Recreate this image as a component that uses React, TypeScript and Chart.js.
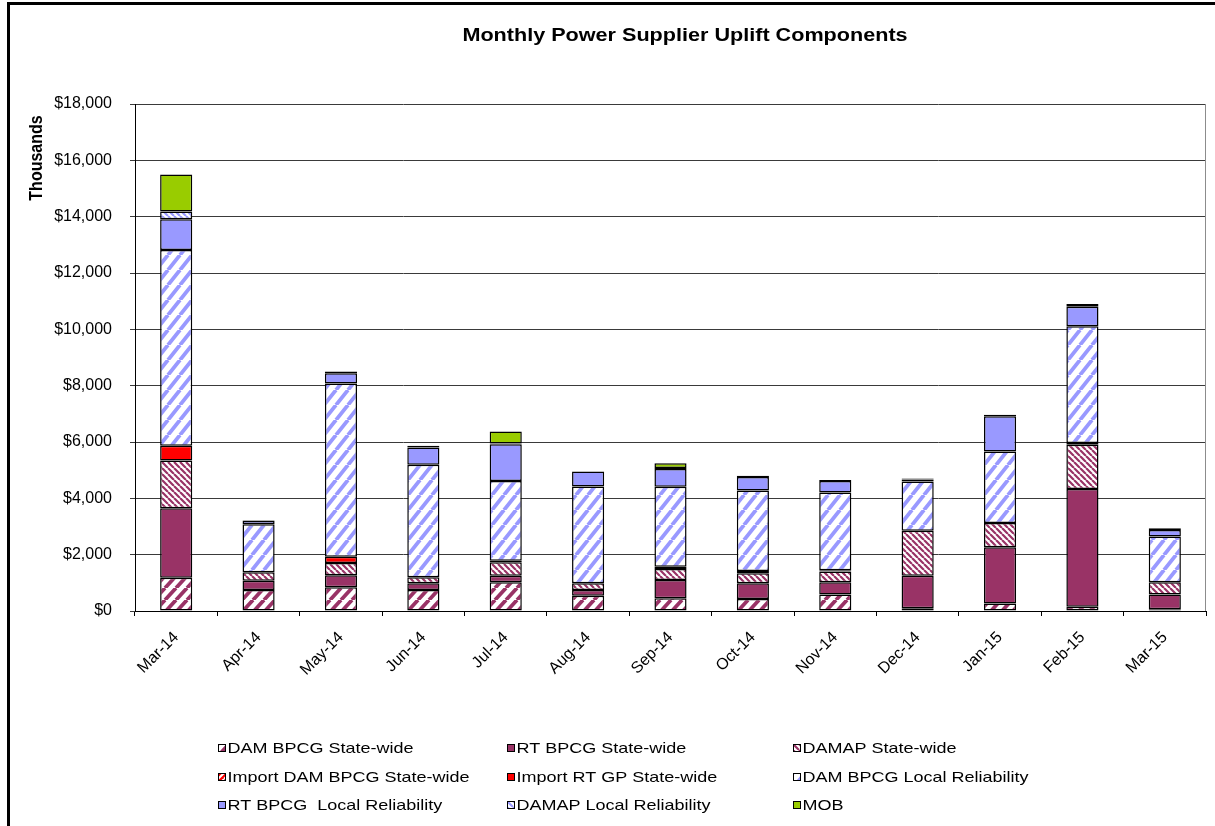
import React, { useEffect, useRef } from 'react';
import { Chart, registerables } from 'chart.js';

Chart.register(...registerables);

const categories = ['Mar-14', 'Apr-14', 'May-14', 'Jun-14', 'Jul-14', 'Aug-14', 'Sep-14', 'Oct-14', 'Nov-14', 'Dec-14', 'Jan-15', 'Feb-15', 'Mar-15'];

const damBpcgStateWide = [1180, 750, 840, 750, 1020, 545, 450, 427, 590, 95, 270, 150, 60];
const rtBpcgStateWide = [2470, 320, 430, 235, 235, 200, 650, 560, 430, 1160, 1995, 4180, 530];
const damapStateWide = [1690, 310, 430, 215, 475, 240, 390, 355, 380, 1590, 855, 1575, 430];
const importDamBpcgStateWide = [0, 0, 0, 0, 50, 0, 0, 0, 50, 0, 0, 0, 0];
const importRtGpStateWide = [530, 0, 230, 0, 0, 0, 80, 80, 0, 0, 0, 60, 0];
const damBpcgLocalReliability = [6950, 1700, 6145, 3990, 2835, 3435, 2845, 2860, 2760, 1755, 2545, 4145, 1625];
const rtBpcgLocalReliability = [1090, 120, 370, 615, 1305, 535, 630, 475, 405, 70, 1245, 690, 235];
const damapLocalReliability = [270, 20, 60, 60, 30, 0, 30, 45, 35, 30, 60, 100, 60];
const mob = [1320, 0, 0, 0, 420, 0, 170, 0, 0, 0, 0, 0, 0];

const seriesLabels = [
  'DAM BPCG State-wide',
  'RT BPCG State-wide',
  'DAMAP State-wide',
  'Import DAM BPCG State-wide',
  'Import RT GP State-wide',
  'DAM BPCG Local Reliability',
  'RT BPCG  Local Reliability',
  'DAMAP Local Reliability',
  'MOB',
];

const yTickValues = [0, 2000, 4000, 6000, 8000, 10000, 12000, 14000, 16000, 18000];

const chartTitle = 'Monthly Power Supplier Uplift Components';
const yAxisTitle = 'Thousands';

const FONT = '"Liberation Sans", Arial, Helvetica, sans-serif';

function stripePattern(fg: string, bg: string, w: number, h: number, lw: number, dir: 'up' | 'down') {
  const c = document.createElement('canvas');
  c.width = w;
  c.height = h;
  const g = c.getContext('2d')!;
  g.fillStyle = bg;
  g.fillRect(0, 0, w, h);
  g.strokeStyle = fg;
  g.lineWidth = lw;
  g.beginPath();
  for (let k = -1; k <= 1; k++) {
    if (dir === 'up') {
      g.moveTo(k * w, h);
      g.lineTo(k * w + w, 0);
    } else {
      g.moveTo(k * w, 0);
      g.lineTo(k * w + w, h);
    }
  }
  g.stroke();
  return g.createPattern(c, 'repeat') as CanvasPattern;
}

export default function App() {
  const ref = useRef<HTMLCanvasElement>(null);

  useEffect(() => {
    const canvas = ref.current!;
    const maroon = '#993366';
    const blue = '#9999FF';
    const red = '#FF0000';
    const green = '#99CC00';

    const fills: (string | CanvasPattern)[] = [
      stripePattern(maroon, '#ffffff', 11, 12, 3.8, 'up'),
      maroon,
      stripePattern(maroon, '#ffffff', 6, 6, 2.2, 'down'),
      stripePattern('#ffffff', red, 6, 6, 2, 'up'),
      red,
      stripePattern(blue, '#ffffff', 12, 15, 3.8, 'up'),
      blue,
      stripePattern(blue, '#ffffff', 6, 6, 2.2, 'down'),
      green,
    ];
    const values = [
      damBpcgStateWide,
      rtBpcgStateWide,
      damapStateWide,
      importDamBpcgStateWide,
      importRtGpStateWide,
      damBpcgLocalReliability,
      rtBpcgLocalReliability,
      damapLocalReliability,
      mob,
    ];

    const decor = {
      id: 'decor',
      beforeDraw(chart: any) {
        const ctx = chart.ctx;
        ctx.save();
        ctx.fillStyle = '#ffffff';
        ctx.fillRect(0, 0, chart.width, chart.height);
        ctx.restore();
      },
      beforeDatasetsDraw(chart: any) {
        const { ctx, chartArea: a } = chart;
        ctx.save();
        ctx.strokeStyle = '#8c8c8c';
        ctx.lineWidth = 1;
        ctx.beginPath();
        ctx.moveTo(a.right - 0.5, a.top);
        ctx.lineTo(a.right - 0.5, a.bottom);
        ctx.stroke();
        ctx.restore();
      },
      afterDraw(chart: any) {
        const ctx = chart.ctx;
        // outer frame
        ctx.save();
        ctx.strokeStyle = '#000000';
        ctx.lineWidth = 3;
        ctx.strokeRect(8.5, 3.5, 1300, 900);
        ctx.restore();

        // title
        ctx.save();
        ctx.translate(685, 36);
        ctx.scale(1.2, 1);
        ctx.font = `bold 18px ${FONT}`;
        ctx.fillStyle = '#000';
        ctx.textAlign = 'center';
        ctx.textBaseline = 'middle';
        ctx.fillText(chartTitle, 0, 0);
        ctx.restore();

        // y axis title
        ctx.save();
        ctx.translate(37, 158);
        ctx.scale(1.2, 1);
        ctx.rotate(-Math.PI / 2);
        ctx.font = `bold 16px ${FONT}`;
        ctx.fillStyle = '#000';
        ctx.textAlign = 'center';
        ctx.textBaseline = 'middle';
        ctx.fillText(yAxisTitle, 0, 0);
        ctx.restore();

        // legend
        const colX = [218, 507, 793];
        const rowY = [748, 777, 805];
        chart.data.datasets.forEach((ds: any, i: number) => {
          const x = colX[i % 3];
          const y = rowY[Math.floor(i / 3)];
          ctx.save();
          ctx.translate(x, y - 4);
          ctx.fillStyle = ds.backgroundColor;
          ctx.fillRect(0, 0, 8, 8);
          ctx.strokeStyle = '#000';
          ctx.lineWidth = 1;
          ctx.strokeRect(0.5, 0.5, 7, 7);
          ctx.restore();
          ctx.save();
          ctx.translate(x + 9.5, y + 1);
          ctx.scale(1.2, 1);
          ctx.font = `15px ${FONT}`;
          ctx.fillStyle = '#000';
          ctx.textAlign = 'left';
          ctx.textBaseline = 'middle';
          ctx.fillText(ds.label, 0, 0);
          ctx.restore();
        });
      },
    };

    const chart = new Chart(canvas, {
      type: 'bar',
      data: {
        labels: categories,
        datasets: seriesLabels.map((label, i) => ({
          label,
          data: values[i],
          backgroundColor: fills[i] as any,
          borderColor: '#000000',
          borderWidth: 1.5,
          borderSkipped: false,
          inflateAmount: 0,
          categoryPercentage: 1,
          barPercentage: 0.39,
        })),
      },
      options: {
        responsive: false,
        animation: false,
        layout: { padding: { top: 104, right: 9, left: 0, bottom: 135 } },
        plugins: {
          legend: { display: false },
          title: { display: false },
          tooltip: { enabled: false },
        },
        scales: {
          x: {
            stacked: true,
            grid: { display: true, drawOnChartArea: false, drawTicks: true, tickLength: 5, color: '#000000', offset: true },
            border: { display: true, color: '#000000' },
            ticks: {
              color: '#000',
              font: { family: FONT, size: 16 },
              minRotation: 45,
              maxRotation: 45,
              padding: 12,
              autoSkip: false,
            },
            afterFit: (s: any) => {
              s.height = 80;
            },
          },
          y: {
            stacked: true,
            min: 0,
            max: 18000,
            afterBuildTicks: (s: any) => {
              s.ticks = yTickValues.map((v) => ({ value: v }));
            },
            ticks: {
              color: '#000',
              font: { family: FONT, size: 16 },
              padding: 18,
              callback: (v: any) => '$' + Number(v).toLocaleString('en-US'),
            },
            grid: { color: '#3a3a3a', tickLength: 5 },
            border: { display: true, color: '#000000' },
            afterFit: (s: any) => {
              s.width = 135;
            },
          },
        },
      },
      plugins: [decor],
    });
    return () => chart.destroy();
  }, []);

  return (
    <div style={{ position: 'absolute', left: 0, top: 0, width: 1215, height: 826, background: '#fff' }}>
      <canvas ref={ref} width={1215} height={826} style={{ display: 'block' }} />
    </div>
  );
}
